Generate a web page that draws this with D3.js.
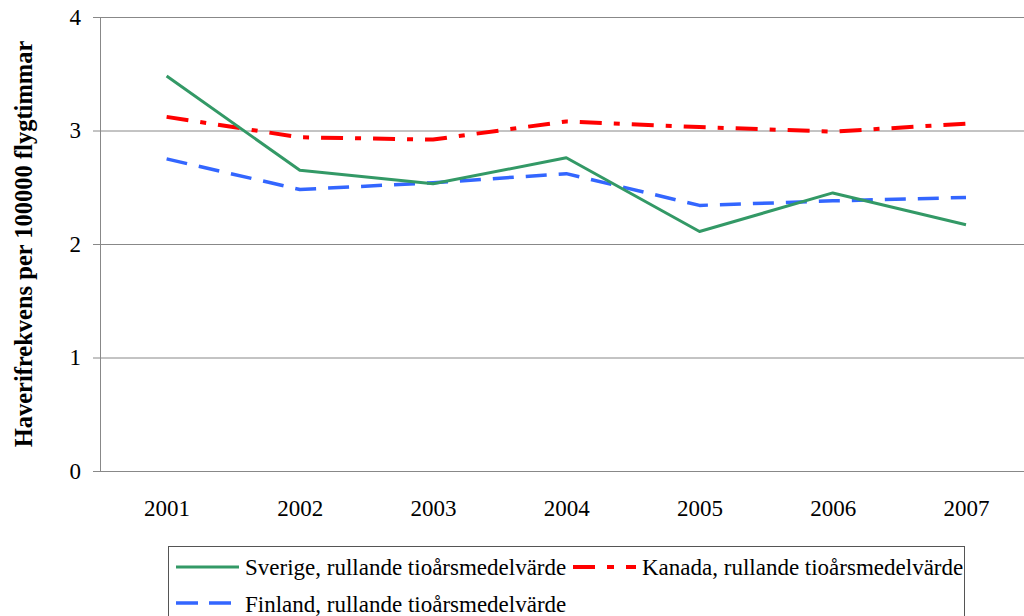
<!DOCTYPE html>
<html>
<head>
<meta charset="utf-8">
<script src="https://cdn.jsdelivr.net/npm/d3@7"></script>
<style>
  html, body { margin: 0; padding: 0; background: #fff; }
  svg { display: block; }
  text { font-family: "Liberation Serif", "Times New Roman", serif; fill: #000; }
</style>
</head>
<body>
<svg id="chart" width="1024" height="616"></svg>
<script>
const years = ["2001", "2002", "2003", "2004", "2005", "2006", "2007"];
const sverige = [3.48, 2.65, 2.53, 2.76, 2.11, 2.45, 2.17];
const kanada  = [3.12, 2.94, 2.92, 3.08, 3.03, 2.99, 3.06];
const finland = [2.75, 2.48, 2.54, 2.62, 2.34, 2.38, 2.41];
const yTicks = [0, 1, 2, 3, 4];
const yTitle = "Haverifrekvens per 100000 flygtimmar";
const seriesNames = [
  "Sverige, rullande tioårsmedelvärde",
  "Kanada, rullande tioårsmedelvärde",
  "Finland, rullande tioårsmedelvärde"
];

const svg = d3.select("#chart");
const pLeft = 100, pRight = 1032.6, pTop = 17, pBottom = 471;

const x = d3.scalePoint().domain(years).range([pLeft, pRight]).padding(0.5);
const y = d3.scaleLinear().domain([0, 4]).range([pBottom, pTop]);

// Y axis with gridlines
const yAxis = svg.append("g")
  .attr("transform", `translate(${pLeft},0)`)
  .call(d3.axisLeft(y).tickValues(yTicks).tickFormat(d3.format("d"))
    .tickSizeInner(-(pRight - pLeft)).tickSizeOuter(0).tickPadding(19));
yAxis.select(".domain").attr("stroke", "#888").attr("stroke-width", 1);
yAxis.selectAll(".tick line").attr("x1", -7).attr("x2", pRight - pLeft).attr("stroke", "#888");
yAxis.selectAll(".tick text").attr("font-size", 23).attr("font-family", "Liberation Serif");

// X axis labels
const xAxis = svg.append("g")
  .attr("transform", `translate(0,${pBottom})`)
  .call(d3.axisBottom(x).tickSize(0).tickPadding(29));
xAxis.select(".domain").remove();
xAxis.selectAll(".tick text").attr("font-size", 23).attr("font-family", "Liberation Serif");

// Y title
svg.append("text")
  .attr("transform", "rotate(-90)")
  .attr("x", -(pTop + pBottom) / 2)
  .attr("y", 32)
  .attr("text-anchor", "middle")
  .attr("font-size", 24.5)
  .attr("font-weight", "bold")
  .text(yTitle);

const styles = [
  { color: "#339966", width: 3, dash: null },
  { color: "#ff0000", width: 4, dash: "22,12,6,12" },
  { color: "#3366ff", width: 3.5, dash: "21,12" }
];
const allSeries = [sverige, kanada, finland];

const line = d3.line().x((d, i) => x(years[i])).y(d => y(d));

// draw order: Finland, Kanada, Sverige on top
[2, 1, 0].forEach(k => {
  svg.append("path")
    .datum(allSeries[k])
    .attr("fill", "none")
    .attr("stroke", styles[k].color)
    .attr("stroke-width", styles[k].width)
    .attr("stroke-dasharray", styles[k].dash)
    .attr("stroke-linejoin", "round")
    .attr("d", line);
});

// Legend
const lg = svg.append("g");
lg.append("rect")
  .attr("x", 168.5).attr("y", 546.5)
  .attr("width", 796).attr("height", 120)
  .attr("fill", "#fff").attr("stroke", "#555").attr("stroke-width", 1);

const legendPos = [
  { lx: 176, ly: 567, tx: 245, ty: 575 },
  { lx: 573, ly: 567, tx: 642, ty: 575 },
  { lx: 176, ly: 603, tx: 245, ty: 612 }
];
legendPos.forEach((p, k) => {
  lg.append("line")
    .attr("x1", p.lx).attr("x2", p.lx + 63)
    .attr("y1", p.ly).attr("y2", p.ly)
    .attr("stroke", styles[k].color)
    .attr("stroke-width", styles[k].width)
    .attr("stroke-dasharray", k === 1 ? "22,12,7,12" : (k === 2 ? "22,11" : null));
  lg.append("text")
    .attr("x", p.tx).attr("y", p.ty)
    .attr("font-size", 23)
    .text(seriesNames[k]);
});
</script>
</body>
</html>
